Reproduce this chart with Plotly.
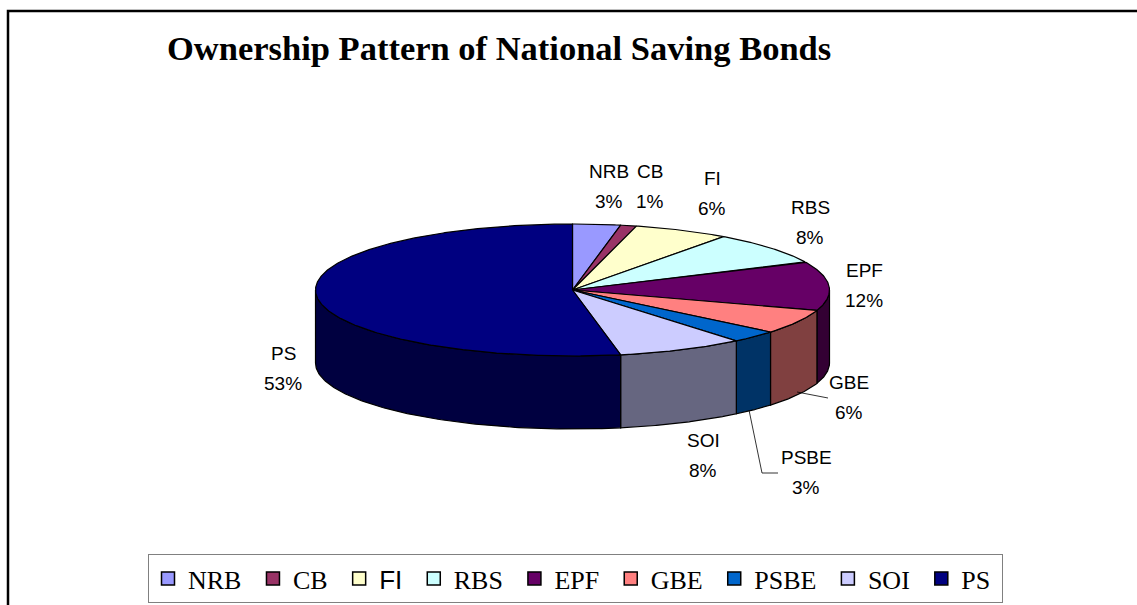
import numpy as np
import plotly.graph_objects as go

# ---- data ----
categories = ["NRB", "CB", "FI", "RBS", "EPF", "GBE", "PSBE", "SOI", "PS"]
shares = [3, 1, 6, 8, 12, 6, 3, 8, 53]
top_colors = ["#9999FF", "#993366", "#FFFFCC", "#CCFFFF", "#660066",
              "#FF8080", "#0066CC", "#CCCCFF", "#000080"]
side_colors = ["#4D4D80", "#4D1A33", "#808066", "#668080", "#330033",
               "#804040", "#003366", "#666680", "#000040"]
# label anchor positions (pixel layout)
label_pos = [(609, 171), (650, 171), (712, 178), (810, 207), (864, 270),
             (849, 382), (806, 457), (703, 440), (283, 353)]

W, H = 1137, 605
CX, CY, RX, RY, DEPTH = 572.5, 290, 257, 66, 73
SERIF = "Times New Roman, Liberation Serif, serif"
SANS = "Arial, Liberation Sans, sans-serif"

total = float(sum(shares))
angles = np.cumsum([0] + shares) / total * 360.0


def ell(theta_deg, dy=0.0):
    t = np.radians(theta_deg)
    return CX + RX * np.sin(t), CY - RY * np.cos(t) + dy


fig = go.Figure()

# side walls (front half only)
for i, cat in enumerate(categories):
    a0, a1 = max(angles[i], 90.0), min(angles[i + 1], 270.0)
    if a1 <= a0:
        continue
    th = np.linspace(a0, a1, 120)
    xt, yt = ell(th)
    xb, yb = ell(th[::-1], DEPTH)
    fig.add_trace(go.Scatter(
        x=np.r_[xt, xb, xt[:1]], y=np.r_[yt, yb, yt[:1]],
        mode="lines", fill="toself", fillcolor=side_colors[i],
        line=dict(color="black", width=1.2),
        showlegend=False, hoverinfo="skip"))

# top faces
for i, cat in enumerate(categories):
    th = np.linspace(angles[i], angles[i + 1], max(int(shares[i] * 8), 12))
    xt, yt = ell(th)
    fig.add_trace(go.Scatter(
        x=np.r_[CX, xt, CX], y=np.r_[CY, yt, CY],
        mode="lines", fill="toself", fillcolor=top_colors[i],
        line=dict(color="black", width=1.2),
        showlegend=False, legendgroup=cat, hoverinfo="skip"))

# legend entries (square swatches)
for i, cat in enumerate(categories):
    if cat == "FI":
        name = "<span style='font-family:Arial, Liberation Sans, sans-serif'>FI</span>\u00a0"
    else:
        name = cat + "\u00a0"
    fig.add_trace(go.Scatter(
        x=[None], y=[None], mode="markers", name=name, legendgroup=cat,
        marker=dict(symbol="square", size=13, color=top_colors[i],
                    line=dict(color="black", width=1.5)),
        hoverinfo="skip"))

# labels
for i, cat in enumerate(categories):
    lx, ly = label_pos[i]
    pct = round(shares[i] / total * 100)
    fig.add_annotation(x=lx, y=ly, text=cat, showarrow=False,
                       xref="x", yref="y", xanchor="center", yanchor="middle",
                       font=dict(family=SANS, size=19, color="black"))
    fig.add_annotation(x=lx, y=ly + 30, text=f"{pct}%", showarrow=False,
                       xref="x", yref="y", xanchor="center", yanchor="middle",
                       font=dict(family=SANS, size=19, color="black"))

# leader lines
fig.add_shape(type="line", x0=797, y0=392, x1=828, y1=398, xref="x", yref="y",
              line=dict(color="black", width=0.8))
fig.add_shape(type="path", path="M 749 410 L 762 473 L 778 473", xref="x", yref="y",
              line=dict(color="black", width=0.8))

# outer frame
fig.add_shape(type="rect", x0=8, y0=11, x1=1160, y1=720, xref="x", yref="y",
              line=dict(color="black", width=2.5), fillcolor="rgba(0,0,0,0)", layer="below")

# title
fig.add_annotation(x=165, y=48, xref="x", yref="y", xanchor="left", yanchor="middle",
                   text="<b>Ownership Pattern of National Saving Bonds</b>", showarrow=False,
                   font=dict(family=SERIF, size=34.5, color="black"))

fig.update_layout(
    width=W, height=H,
    margin=dict(l=0, r=0, t=0, b=0),
    paper_bgcolor="white", plot_bgcolor="white",
    xaxis=dict(range=[0, W], visible=False, fixedrange=True),
    yaxis=dict(range=[H, 0], visible=False, fixedrange=True),
    showlegend=True,
    legend=dict(orientation="h", x=148 / W, y=1 - 554 / H, xanchor="left", yanchor="top",
                font=dict(family=SERIF, size=26, color="black"),
                bordercolor="#808080", borderwidth=1, bgcolor="white",
                itemwidth=30, tracegroupgap=0),
)

fig.write_html("out.html")
